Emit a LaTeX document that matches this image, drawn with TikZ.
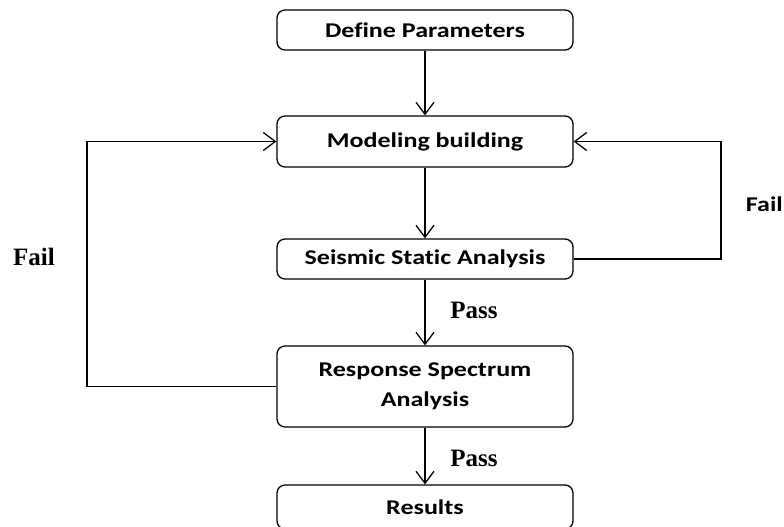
\documentclass[tikz,border=0pt]{standalone}
\usepackage{fontspec}
\setmainfont{Carlito}[Ligatures=NoCommon]
\newfontfamily\serifbold{Liberation Serif}
\usepackage{graphicx}
\usepackage{tikz}
\usetikzlibrary{arrows.meta}
\newcommand{\wide}[1]{\scalebox{1.24}[1]{#1}}

\begin{document}
\begin{tikzpicture}[x=1pt,y=-1pt,
		stepbox/.style={draw,line width=1.3pt,rounded corners=8pt,minimum width=296pt,
			align=center,font=\fontsize{21}{30}\selectfont\bfseries},
		link/.style={line width=1.3pt,-{Straight Barb[length=12pt,width=18pt,line width=1.3pt]}},
		tag/.style={font=\fontsize{25}{28}\serifbold\bfseries}]
		\useasboundingbox (0,0) rectangle (784,527);
		% boxes of the flow
		\node[stepbox,minimum height=40pt] (def) at (425,30) {\wide{Define Parameters}};
		\node[stepbox,minimum height=51pt] (model) at (425,141.5) {\wide{Modeling building}};
		\node[stepbox,minimum height=40pt] (static) at (425,259) {\wide{Seismic Static Analysis}};
		\node[stepbox,minimum height=81pt] (rsa) at (425,386.5) {\wide{Response Spectrum}\\\wide{Analysis}};
		\node[stepbox,minimum height=44pt] (res) at (425,507) {\wide{Results}};
		% straight links
		\draw[link] (def) -- (model);
		\draw[link] (model) -- (static);
		\draw[link] (static) -- (rsa);
		\draw[link] (rsa) -- (res);
		% loops back to the model
		\coordinate (lc) at (87,386.5);
		\coordinate (rc) at (721,259);
		\draw[link] (rsa.west) -- (lc) |- (model.west);
		\draw[link] (static.east) -- (rc) |- (model.east);
		% labels
		\node[tag] (pass1) at (474,310) {Pass};
		\node[tag] (pass2) at (474,458) {Pass};
		\node[tag] (fail1) at (34,257) {Fail};
		\node[font=\fontsize{21}{24}\selectfont\bfseries,anchor=east,inner xsep=1pt] (fail2) at (784,204) {\wide{Fail}};
\end{tikzpicture}
\end{document}
